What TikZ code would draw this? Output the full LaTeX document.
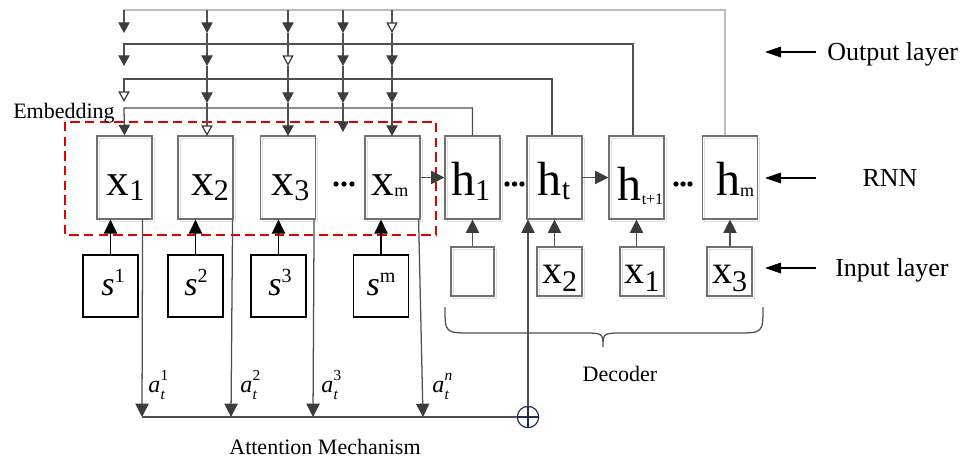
\documentclass[tikz,border=0pt]{standalone}
\usepackage{fontspec}
\setmainfont{Liberation Serif}
\usetikzlibrary{arrows.meta}
\definecolor{bx}{HTML}{707070}
\definecolor{ln}{HTML}{505050}
\definecolor{ah}{HTML}{3C3C3C}
\definecolor{toplight}{HTML}{BDBDBD}
\definecolor{sumc}{HTML}{1F2D50}
\newcommand\fsz[1]{\fontsize{#1}{#1}\selectfont}
\newcommand\attn[1]{{\fsz{18}\textit{a}}\kern0.3pt\makebox[0pt][l]{\raisebox{8.3pt}{\fsz{11.5}#1}}\raisebox{-5.5pt}{\fsz{11.5}\textit{t}}\hspace{5pt}}
\begin{document}
\begin{tikzpicture}[x=0.75pt,y=-0.75pt,
  rbox/.style={draw=bx, line width=0.9pt, minimum width=41.25pt, minimum height=62.25pt, inner sep=0pt,
    preaction={draw=black!13, line width=0.9pt, transform canvas={shift={(1.6pt,-1.6pt)}}}},
  ibox/.style={draw=bx, line width=0.9pt, minimum height=36.75pt, inner sep=0pt,
    preaction={draw=black!13, line width=0.9pt, transform canvas={shift={(1.6pt,-1.6pt)}}}},
  sbox/.style={draw=black, line width=0.9pt, minimum width=41.25pt, minimum height=46.5pt, inner sep=0pt},
  lab/.style={anchor=base, inner sep=0pt},
  cline/.style={draw=ln, line width=0.95pt},
  FA/.style={-{Triangle[width=8.5pt,length=8pt,fill=ah,color=ah]}},
  OA/.style={-{Triangle[open,width=8.5pt,length=8pt,fill=white,color=ah]}},
  IA/.style={-{Triangle[width=10pt,length=10pt,fill=ah,color=ah]}},
  BA/.style={-{Triangle[width=10pt,length=10.5pt,fill=black,color=black]}},
  LA/.style={draw=black, line width=0.9pt, -{Triangle[width=8pt,length=12pt,fill=black,color=black]}}
]
\useasboundingbox (0,0) rectangle (976,457);

% RNN encoder boxes
\node[rbox] (x1) at (124.5,177.5) {};
\node[rbox] (x2) at (205.5,177.5) {};
\node[rbox] (x3) at (288,177.5) {};
\node[rbox] (xm) at (392.5,177.5) {};
\node[rbox] (h1) at (472.5,177.5) {};
\node[rbox] (ht) at (554.5,177.5) {};
\node[rbox] (ht1) at (636.5,177.5) {};
\node[rbox] (hm) at (730,177.5) {};

\node[lab] (lx1) at (125.5,195) {\fsz{34}x\raisebox{-3.75pt}{\fsz{22.5}1}};
\node[lab] (lx2) at (210,195) {\fsz{34}x\raisebox{-3.75pt}{\fsz{22.5}2}};
\node[lab] (lx3) at (290.5,195) {\fsz{34}x\raisebox{-3.75pt}{\fsz{22.5}3}};
\node[lab] (lxm) at (390,195) {\fsz{34}x\raisebox{-1.2pt}{\fsz{13.5}m}};
\node[lab] (lh1) at (470.5,195) {\fsz{36}h\raisebox{-3.75pt}{\fsz{22.5}1}};
\node[lab] (lht) at (554,195) {\fsz{36}h\raisebox{-3.5pt}{\fsz{22.5}t}};
\node[lab] (lht1) at (640.5,200) {\fsz{36}h\raisebox{-3pt}{\fsz{12}t+1}};
\node[lab] (lhm) at (735,195) {\fsz{36}h\raisebox{-1pt}{\fsz{13.5}m}};

% ellipsis dots
\foreach \px in {336,344,352,507,514.5,522,676,683,690}
  \fill[black] (\px,184) circle (2pt);

% Embedding dashed frame
\draw[red!90!black, line width=1.1pt, dash pattern=on 7pt off 4pt] (65,122) rectangle (436,235);
\node[anchor=base west, inner sep=0pt] (emb) at (13,118) {\fsz{16.5}Embedding};

% horizontal RNN arrows
\draw[cline, IA] (xm.east) -- (h1.west);
\draw[cline, IA] (ht.east) -- (ht1.west);

% feedback lines from decoder outputs
\draw[draw=toplight, line width=0.95pt] ([xshift=-3.75pt]hm.north) |- (124,10);
\draw[cline, FA] (124,10) -- (124,33);
\draw[cline, FA] ([xshift=-2.6pt]ht1.north) |- (124,44) -- (124,66);
\draw[cline, OA] ([xshift=-1.9pt]ht.north) |- (124,79) -- (124,102);
\draw[cline, FA] (h1.north) |- (124,108) -- (x1.north);

\foreach \c/\ra/\rb/\rc/\rd/\e in {207/FA/FA/FA/OA/136, 288/FA/OA/FA/FA/136, 343/FA/FA/FA/FA/132, 392/OA/FA/FA/FA/136}{
  \draw[cline, \ra] (\c,10) -- (\c,33);
  \draw[cline] (\c,33) -- (\c,44);
  \draw[cline, \rb] (\c,44) -- (\c,66);
  \draw[cline] (\c,66) -- (\c,79);
  \draw[cline, \rc] (\c,79) -- (\c,103);
  \draw[cline] (\c,103) -- (\c,108);
  \draw[cline, \rd] (\c,108) -- (\c,\e);
}

% source boxes
\node[sbox] (s1) at (110.5,286) {};
\node[sbox] (s2) at (195.5,286) {};
\node[sbox] (s3) at (278.5,286) {};
\node[sbox] (sm) at (381,286) {};
\node[lab] (ls1) at (113,295) {\fsz{25.5}\textit{s}\raisebox{9.5pt}{\fsz{15}1}};
\node[lab] (ls2) at (196,295) {\fsz{25.5}\textit{s}\raisebox{9.5pt}{\fsz{15}2}};
\node[lab] (ls3) at (280,295) {\fsz{25.5}\textit{s}\raisebox{9.5pt}{\fsz{15}3}};
\node[lab] (lsm) at (381,295) {\fsz{25.5}\textit{s}\raisebox{9.5pt}{\fsz{15}m}};
\foreach \s/\x in {s1/x1,s2/x2,s3/x3,sm/xm}
  \draw[draw=black, line width=0.95pt, BA] (\s.north) -- (\s.north |- \x.south);

% attention sum
\node[circle, draw=sumc, line width=0.9pt, minimum size=16pt, inner sep=0pt] (sum) at (528,417) {};
\draw[sumc, line width=0.9pt] (sum.north) -- (sum.south) (sum.west) -- (sum.east);
\coordinate (b1) at (142,417);
\coordinate (b2) at (231,417);
\coordinate (b3) at (313,417);
\coordinate (b4) at (423,417);
\draw[cline, IA] ([xshift=-7.5pt]x1.south east) -- (b1);
\draw[cline, IA] ([xshift=-0.75pt]x2.south east) -- (b2);
\draw[cline, IA] ([xshift=-1.5pt]x3.south east) -- (b3);
\draw[cline, IA] ([xshift=-1.5pt]xm.south east) -- (b4);
\draw[cline] (b1) -- (sum.west);
\draw[cline, IA] (sum.north) -- (sum.north |- ht.south);

\node[anchor=base west, inner sep=0pt] (a1) at (148,392) {\attn{1}};
\node[anchor=base west, inner sep=0pt] (a2) at (240,392) {\attn{2}};
\node[anchor=base west, inner sep=0pt] (a3) at (321,392) {\attn{3}};
\node[anchor=base west, inner sep=0pt] (an) at (432,392) {\attn{\textit{n}}};
\node[lab] (attl) at (325,454) {\fsz{16.5}Attention Mechanism};

% decoder inputs
\node[ibox, minimum width=32.25pt] (in1) at (472.5,271.5) {};
\node[ibox, minimum width=33.75pt] (in2) at (559.5,271.5) {};
\node[ibox, minimum width=33pt] (in3) at (642,271.5) {};
\node[ibox, minimum width=33.75pt] (in4) at (729.5,271.5) {};
\node[lab] (lin2) at (559.5,283) {\fsz{30}x\raisebox{-6.5pt}{\fsz{22.5}2}};
\node[lab] (lin3) at (642,283) {\fsz{30}x\raisebox{-6.5pt}{\fsz{22.5}1}};
\node[lab] (lin4) at (729.5,283) {\fsz{30}x\raisebox{-6.5pt}{\fsz{22.5}3}};
\foreach \i/\h in {in1/h1,in2/ht,in3/ht1,in4/hm}
  \draw[cline, IA] (\h.south |- \i.north) -- (\h.south);

% decoder brace
\draw[cline] (445,307) .. controls (445,333) .. (472,333) -- (582,333)
  .. controls (603,333) .. (603,347) .. controls (603,333) .. (624,333)
  -- (736,333) .. controls (763,333) .. (763,307);
\node[lab] (dec) at (620,381.5) {\fsz{16.5}Decoder};

% layer labels
\node[anchor=base west, inner sep=0pt] (outl) at (827,60.5) {\fsz{19.5}Output layer};
\node[lab] (rnnl) at (890,186.5) {\fsz{19.5}RNN};
\node[anchor=base west, inner sep=0pt] (inl) at (835,276.5) {\fsz{19.5}Input layer};
\coordinate (oa1) at (816,52);  \coordinate (oa2) at (765,52);
\coordinate (ra1) at (816,178); \coordinate (ra2) at (765,178);
\coordinate (ia1) at (816,268); \coordinate (ia2) at (765,268);
\draw[LA] (oa1) -- (oa2);
\draw[LA] (ra1) -- (ra2);
\draw[LA] (ia1) -- (ia2);
\end{tikzpicture}
\end{document}
